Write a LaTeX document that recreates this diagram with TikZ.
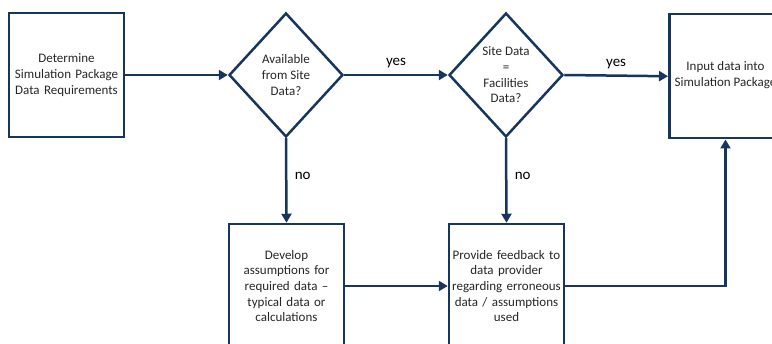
\documentclass[tikz,border=0pt]{standalone}
\usepackage{fontspec}
\setmainfont{Carlito}
\usetikzlibrary{arrows.meta,shapes.geometric}
\definecolor{navy}{HTML}{17365D}
\begin{document}
\begin{tikzpicture}[x=1pt,y=-1pt,
  every node/.style={font=\fontsize{13}{15.7}\selectfont, text=black!85},
  boxst/.style={draw=navy, line width=2.5pt, minimum width=115pt, minimum height=124pt, inner sep=2pt, align=center, text width=110pt},
  decst/.style={draw=navy, line width=2.5pt, diamond, minimum width=114pt, minimum height=124pt, inner sep=0pt, align=center, aspect=0.92},
  conn/.style={draw=navy, line width=2.5pt, -{Triangle[length=9pt,width=10pt]}},
  lbl/.style={font=\fontsize{15}{17}\selectfont, text=black}]
\useasboundingbox (0,0) rectangle (772,344);
\node[boxst] (det) at (66.5,75) {Determine\\Simulation Package\\Data Requirements};
\node[decst] (avail) at (286,75) {};
\node[align=center] at (286,75) {Available\\from Site\\Data?};
\node[decst] (same) at (506,75) {};
\node[align=center] at (506,75) {Site Data\\=\\Facilities\\Data?};
\node[boxst, anchor=north west] (inp) at (668,13) {\vphantom{p}};
\node[align=center] at (725.5,75) {Input data into\\Simulation Package};
\node[boxst] (dev) at (286.5,286) {Develop\\assumptions for\\required data --\\typical data or\\calculations};
\node[boxst] (fb) at (506.5,286) {Provide feedback to\\data provider\\regarding erroneous\\data / assumptions\\used};
\draw[conn] (det.east) -- (avail.west);
\draw[conn] (avail.east) -- node[lbl, above=2pt] {yes} (same.west);
\draw[conn] (same.east) -- node[lbl, above=2pt] {yes} (inp.west);
\draw[conn] (avail.south) -- node[lbl, right=4pt, pos=0.45] {no} (dev.north);
\draw[conn] (same.south) -- node[lbl, right=4pt, pos=0.45] {no} (fb.north);
\draw[conn] (dev.east) -- (fb.west);
\coordinate (corner) at (725.5,286);
\draw[conn] (fb.east) -- (corner) -- (corner |- inp.south);
\end{tikzpicture}
\end{document}
